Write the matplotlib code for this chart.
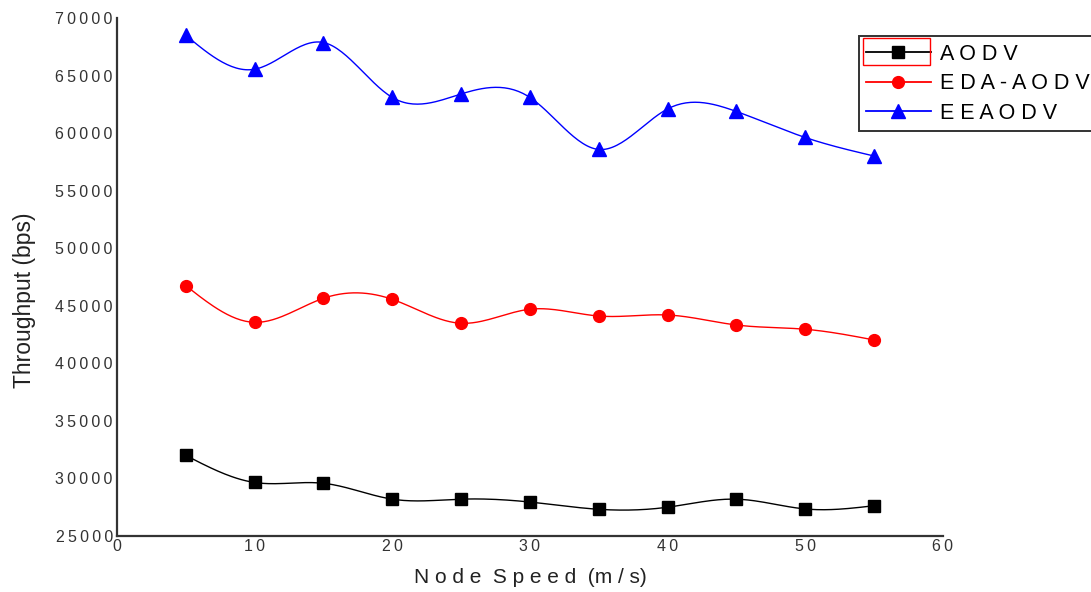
import numpy as np
import matplotlib
matplotlib.use("Agg")
import matplotlib.pyplot as plt
from matplotlib.patches import Rectangle
from matplotlib.ticker import FuncFormatter

plt.rcParams['font.family'] = ['Liberation Sans', 'DejaVu Sans']

# data
node_speed = [5, 10, 15, 20, 25, 30, 35, 40, 45, 50, 55]
aodv = [32000, 29650, 29580, 28200, 28200, 27950, 27320, 27500, 28200, 27350, 27630]
eda_aodv = [46750, 43560, 45650, 45560, 43480, 44700, 44110, 44200, 43330, 42960, 42030]
eeaodv = [68500, 65550, 67870, 63100, 63400, 63100, 58580, 62100, 61880, 59620, 58010]
series_names = ["AODV", "EDA-AODV", "EEAODV"]


def natural_spline(x, y, n=30):
    # natural cubic spline through the points, for the smooth connecting line
    x = np.asarray(x, float)
    y = np.asarray(y, float)
    k = len(x)
    h = np.diff(x)
    A = np.zeros((k, k))
    b = np.zeros(k)
    A[0, 0] = A[-1, -1] = 1
    for i in range(1, k - 1):
        A[i, i - 1] = h[i - 1]
        A[i, i] = 2 * (h[i - 1] + h[i])
        A[i, i + 1] = h[i]
        b[i] = 6 * ((y[i + 1] - y[i]) / h[i] - (y[i] - y[i - 1]) / h[i - 1])
    m = np.linalg.solve(A, b)
    xs, ys = [], []
    for i in range(k - 1):
        t = np.linspace(x[i], x[i + 1], n, endpoint=(i == k - 2))
        a = (x[i + 1] - t) / h[i]
        c = (t - x[i]) / h[i]
        s = (a * y[i] + c * y[i + 1]
             + ((a ** 3 - a) * m[i] + (c ** 3 - c) * m[i + 1]) * h[i] ** 2 / 6)
        xs.append(t)
        ys.append(s)
    return np.concatenate(xs), np.concatenate(ys)


def spaced(s, gap="\u2009"):
    return gap.join(s)


fig = plt.figure(figsize=(10.91, 5.92), dpi=100)
ax = fig.add_axes([0.1072, 0.0946, 0.757, 0.8750])

styles = [("black", "s", 8.5), ("red", "o", 8.5), ("blue", "^", 10)]
handles = []
for name, vals, (color, marker, ms) in zip(series_names, [aodv, eda_aodv, eeaodv], styles):
    sx, sy = natural_spline(node_speed, vals)
    ax.plot(sx, sy, color=color, lw=1.0)
    ax.plot(node_speed, vals, linestyle="none", marker=marker, color=color, markersize=ms)
    h, = ax.plot([], [], color=color, lw=1.3, marker=marker, markersize=ms,
                 label=spaced(name, " "))
    handles.append(h)

ax.set_xlim(0, 60)
ax.set_ylim(25000, 70000)
ax.set_xticks(range(0, 61, 10))
ax.set_yticks(range(25000, 70001, 5000))
ax.yaxis.set_major_formatter(FuncFormatter(lambda v, p: spaced(str(int(v)))))
ax.xaxis.set_major_formatter(FuncFormatter(lambda v, p: spaced(str(int(v)))))
ax.tick_params(length=0, labelsize=11.5, labelcolor="#333333", pad=3)
ax.tick_params(axis="x", pad=2)

for side in ["top", "right"]:
    ax.spines[side].set_visible(False)
for side in ["left", "bottom"]:
    ax.spines[side].set_color("#333333")
    ax.spines[side].set_linewidth(1.6)

ax.set_xlabel("N o d e  S p e e d  (m / s)", fontsize=15, color="#222222", labelpad=10)
ax.set_ylabel("Throughput (bps)", fontsize=16.5, color="#222222")
ax.yaxis.set_label_coords(-0.098, 0.455)

leg = fig.legend(handles=handles, loc="upper left", bbox_to_anchor=(0.787, 0.939),
                 fontsize=15.5, frameon=True, fancybox=False, edgecolor="black",
                 handlelength=3.0, handletextpad=0.42, labelspacing=0.4,
                 borderpad=0.35, borderaxespad=0)
leg.get_frame().set_linewidth(1.4)

# red selection box around the first legend sample
fig.add_artist(Rectangle((863 / 1091, 1 - 65 / 592), 67 / 1091, 27 / 592,
                         transform=fig.transFigure, fill=False,
                         edgecolor="red", lw=1.0, zorder=10))

fig.savefig("out.png", dpi=100)
